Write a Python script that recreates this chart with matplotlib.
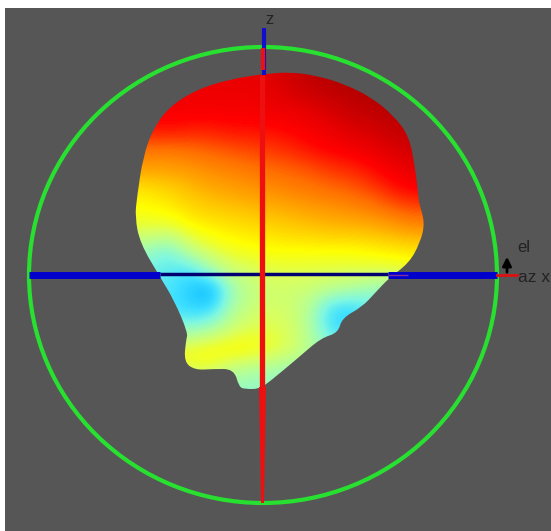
import matplotlib
matplotlib.use("Agg")
import matplotlib.pyplot as plt
from matplotlib.colors import LinearSegmentedColormap
from matplotlib.patches import Ellipse, PathPatch
from matplotlib.path import Path

# antenna pattern, all lengths in image pixels from the centre
sphere_w = 234
sphere_h = 228

outline_x = [1, 28, 55, 81, 108, 131, 146, 152, 155, 156, 162, 157, 146, 126, 112, 99, 79, 75, 58,
             35, 5, -4, -18, -24, -29, -50, -68, -79, -77, -75, -89, -103, -123, -128, -126, -120,
             -110, -93, -65, -32]
outline_y = [201, 203, 199, 191, 178, 159, 139, 108, 82, 72, 52, 32, 12, -3, -18, -32, -43, -58, -63,
             -83, -108, -114, -114, -112, -94, -94, -95, -87, -65, -58, -25, -2, 32, 58, 78, 118,
             146, 169, 186, 196]

# colour level on a regular grid
grid_x = [-132, -112, -92, -72, -52, -32, -12, 8, 28, 48, 68, 88, 108, 128, 148, 168]
grid_y = [205, 185, 165, 145, 125, 105, 85, 65, 45, 25, 5, -15, -35, -55, -75, -95, -115]
level = [
    [.90, .90, .90, .90, .90, .91, .91, .92, .94, .96, .97, .97, .97, .97, .97, .97],
    [.90, .90, .90, .90, .90, .90, .90, .91, .93, .95, .96, .97, .97, .97, .97, .97],
    [.88, .88, .89, .89, .89, .89, .89, .90, .90, .91, .93, .95, .96, .97, .96, .96],
    [.87, .87, .87, .86, .86, .87, .87, .87, .88, .89, .90, .92, .93, .95, .96, .96],
    [.79, .79, .79, .80, .81, .82, .83, .84, .85, .87, .88, .89, .90, .92, .93, .93],
    [.75, .75, .75, .76, .77, .78, .79, .80, .81, .82, .84, .85, .87, .89, .91, .91],
    [.67, .68, .70, .72, .74, .75, .76, .77, .78, .79, .80, .81, .83, .86, .88, .88],
    [.64, .65, .66, .69, .70, .71, .72, .73, .74, .75, .76, .77, .78, .80, .82, .82],
    [.60, .60, .60, .64, .66, .67, .68, .69, .70, .71, .72, .72, .73, .74, .76, .76],
    [.50, .45, .42, .55, .60, .63, .64, .65, .65, .65, .65, .65, .66, .67, .68, .68],
    [.45, .40, .38, .36, .48, .56, .58, .60, .60, .60, .60, .60, .60, .60, .62, .62],
    [.42, .38, .36, .30, .24, .46, .53, .56, .56, .55, .52, .50, .46, .45, .45, .45],
    [.40, .38, .36, .33, .34, .50, .55, .58, .56, .50, .34, .32, .38, .42, .42, .42],
    [.46, .46, .46, .46, .50, .56, .60, .60, .58, .50, .36, .34, .40, .42, .42, .42],
    [.62, .62, .63, .64, .66, .67, .66, .62, .58, .52, .46, .42, .42, .42, .42, .42],
    [.62, .62, .60, .60, .60, .52, .50, .48, .46, .46, .46, .46, .46, .46, .46, .46],
    [.45, .45, .45, .45, .45, .45, .45, .45, .45, .45, .45, .45, .45, .45, .45, .45],
]

# jet, washed out by the lighting of the 3d surface
lit_jet = LinearSegmentedColormap.from_list("lit_jet", [
    (0.0, "#0060ff"), (0.25, "#00b4ff"), (0.35, "#40e0ff"), (0.42, "#80f8e0"),
    (0.5, "#b0ffa0"), (0.58, "#d8ff60"), (0.65, "#ffff00"), (0.72, "#ffc000"),
    (0.8, "#ff7000"), (0.88, "#ff0000"), (1.0, "#a00000")])


def smooth_outline(xs, ys):
    # quadratic curve through the midpoints, the silhouette has no hard corners
    n = len(xs)
    verts = [((xs[-1] + xs[0]) / 2, (ys[-1] + ys[0]) / 2)]
    codes = [Path.MOVETO]
    for i in range(n):
        j = (i + 1) % n
        verts += [(xs[i], ys[i]), ((xs[i] + xs[j]) / 2, (ys[i] + ys[j]) / 2)]
        codes += [Path.CURVE3, Path.CURVE3]
    return Path(verts, codes)


fig = plt.figure(figsize=(5.51, 5.31), dpi=100, facecolor="white")
ax = fig.add_axes([0, 0, 1, 1])
ax.axis("off")
ax.add_patch(plt.Rectangle((-258, -256), 546, 523, fc="#565656", ec="none", zorder=0))

# pattern surface clipped to its silhouette
dx = grid_x[1] - grid_x[0]
dy = grid_y[0] - grid_y[1]
im = ax.imshow(level, cmap=lit_jet, vmin=0, vmax=1, interpolation="bicubic", aspect="equal", zorder=2,
               extent=[grid_x[0] - dx / 2, grid_x[-1] + dx / 2, grid_y[-1] - dy / 2, grid_y[0] + dy / 2])
ax.set_xlim(-263, 288)
ax.set_ylim(-256, 275)
shape = PathPatch(smooth_outline(outline_x, outline_y), fc="none", ec="none")
ax.add_patch(shape)
im.set_clip_path(shape)

# green ring
ax.add_patch(Ellipse((0, 0), 2 * sphere_w, 2 * sphere_h, fc="none", ec="#28e030", lw=3, zorder=3))

# axes through the pattern
ax.plot([-234, -103], [0, 0], color="#0000cc", lw=5, solid_capstyle="butt", zorder=4)
ax.plot([125, 234], [0, 0], color="#0000cc", lw=5, solid_capstyle="butt", zorder=4)
ax.plot([125, 145], [0, 0], color="#8030a0", lw=1, solid_capstyle="butt", zorder=4)
ax.plot([-103, 125], [1, 1], color="#000070", lw=2.5, solid_capstyle="butt", zorder=4)
ax.plot([-1, -1], [-112, 200], color="#ee1010", lw=3.8, solid_capstyle="butt", zorder=5)
ax.fill([-4, 3, 1, -2], [-112, -112, -228, -228], color="#ee1010", lw=0, zorder=5)
ax.plot([1, 1], [200, 247], color="#1010cc", lw=3, solid_capstyle="butt", zorder=4)
ax.plot([0, 0], [205, 227], color="#ee1010", lw=3, solid_capstyle="butt", zorder=5)

# small triad on the right
ax.plot([sphere_w, sphere_w + 20], [0, 0], color="#dd1111", lw=2, zorder=4)
ax.annotate("", xy=(244, 21), xytext=(244, 0),
            arrowprops=dict(arrowstyle="-|>", color="black", lw=2, mutation_scale=13), zorder=5)
ax.text(254, 28, "el", fontsize=12, color="#222222", family="Liberation Sans", va="center")
ax.text(255, -3, "az x", fontsize=12.5, color="#222222", family="Liberation Sans", va="center")
ax.text(2, 255, "z", fontsize=12, color="#222222", family="Liberation Sans", va="center")

fig.savefig("out.png", dpi=100)
